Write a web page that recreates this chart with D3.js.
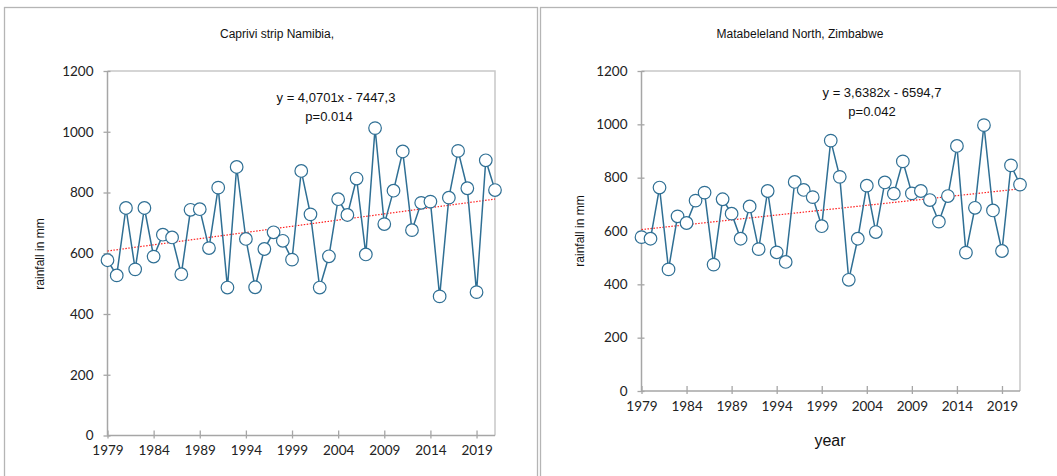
<!DOCTYPE html>
<html>
<head>
<meta charset="utf-8">
<script src="https://cdn.jsdelivr.net/npm/d3@7"></script>
<style>
  body { margin: 0; background: #fff; }
  svg { display: block; }
  .axis path, .axis line { stroke: #a6a6a6; stroke-width: 1.3; }
  .axis text { font-family: Lato, "Liberation Sans", sans-serif; font-size: 13.5px; fill: #222; }
</style>
</head>
<body>
<div id="chart"></div>
<script>
var years = [1979, 1980, 1981, 1982, 1983, 1984, 1985, 1986, 1987, 1988,
	1989, 1990, 1991, 1992, 1993, 1994, 1995, 1996, 1997, 1998,
	1999, 2000, 2001, 2002, 2003, 2004, 2005, 2006, 2007, 2008,
	2009, 2010, 2011, 2012, 2013, 2014, 2015, 2016, 2017, 2018,
	2019, 2020, 2021];

var caprivi = [577, 527, 749, 547, 749, 589, 661, 652, 531, 743,
	745, 617, 816, 487, 884, 647, 488, 614, 669, 641,
	579, 871, 728, 487, 590, 778, 726, 846, 596, 1012,
	696, 806, 935, 676, 766, 770, 458, 783, 937, 814,
	472, 906, 808];

var matabeleland = [577, 571, 763, 456, 655, 630, 714, 744, 474, 719,
	665, 571, 692, 532, 750, 520, 484, 784, 754, 727,
	618, 939, 803, 417, 571, 770, 596, 782, 740, 861,
	741, 750, 716, 635, 731, 919, 519, 687, 997, 677,
	525, 846, 774];

var xTicks = [1979, 1984, 1989, 1994, 1999, 2004, 2009, 2014, 2019];
var yTicks = [0, 200, 400, 600, 800, 1000, 1200];

// trend lines: slope, intercept
var trendCaprivi = [4.0701, -7447.3];
var trendMatabeleland = [3.6382, -6594.7];

var width = 1057;
var height = 476;
var lineColor = "#2f6f94";

var svg = d3.select("#chart").append("svg")
	.attr("width", width)
	.attr("height", height);

// panel frames
svg.append("rect")
	.attr("x", 4.5).attr("y", 7.5)
	.attr("width", 533).attr("height", 480)
	.attr("fill", "none").attr("stroke", "#b5b5b5").attr("stroke-width", 1.3);
svg.append("rect")
	.attr("x", 540.5).attr("y", 7.5)
	.attr("width", 530).attr("height", 480)
	.attr("fill", "none").attr("stroke", "#b5b5b5").attr("stroke-width", 1.3);

function drawChart(cfg) {
	var g = svg.append("g");

	var x = d3.scaleLinear()
		.domain([years[0], years[years.length - 1]])
		.range([cfg.left, cfg.right]);
	var y = d3.scaleLinear()
		.domain([0, 1200])
		.range([cfg.bottom, cfg.top]);

	// plot area frame (top + right)
	g.append("path")
		.attr("d", `M${cfg.left},${cfg.top}H${cfg.right}V${cfg.bottom}`)
		.attr("fill", "none")
		.attr("stroke", "#c8c8c8")
		.attr("stroke-width", 1.5);

	var yAxis = g.append("g")
		.attr("class", "axis")
		.attr("transform", `translate(${cfg.left},0)`)
		.call(d3.axisLeft(y).tickValues(yTicks).tickFormat(d3.format("d")).tickSize(4).tickPadding(10));
	yAxis.selectAll(".tick line").attr("x1", 3);

	var xAxis = g.append("g")
		.attr("class", "axis")
		.attr("transform", `translate(0,${cfg.bottom})`)
		.call(d3.axisBottom(x).tickValues(xTicks).tickFormat(d3.format("d")).tickSize(3).tickPadding(7));
	xAxis.selectAll(".tick line").attr("y1", -5);
	g.selectAll(".axis .domain").attr("d", null);
	g.append("line")
		.attr("x1", cfg.left).attr("x2", cfg.left)
		.attr("y1", cfg.top).attr("y2", cfg.bottom)
		.attr("stroke", "#a6a6a6").attr("stroke-width", 1.5);
	g.append("line")
		.attr("x1", cfg.left).attr("x2", cfg.right)
		.attr("y1", cfg.bottom).attr("y2", cfg.bottom)
		.attr("stroke", "#a6a6a6").attr("stroke-width", 1.5);

	// trend line
	var t = cfg.trend;
	g.append("line")
		.attr("x1", x(years[0]))
		.attr("y1", y(t[0] * years[0] + t[1]))
		.attr("x2", x(years[years.length - 1]))
		.attr("y2", y(t[0] * years[years.length - 1] + t[1]))
		.attr("stroke", "#ff2020")
		.attr("stroke-width", 1.2)
		.attr("stroke-dasharray", "1.5,1.5");

	var line = d3.line()
		.x((d, i) => x(years[i]))
		.y(d => y(d));

	g.append("path")
		.attr("d", line(cfg.values))
		.attr("fill", "none")
		.attr("stroke", lineColor)
		.attr("stroke-width", 1.5);

	g.selectAll("circle")
		.data(cfg.values).enter()
		.append("circle")
		.attr("cx", (d, i) => x(years[i]))
		.attr("cy", d => y(d))
		.attr("r", 6.3)
		.attr("fill", "#fff")
		.attr("stroke", lineColor)
		.attr("stroke-width", 1.2);

	// title
	g.append("text")
		.attr("x", cfg.titleX).attr("y", 38)
		.attr("text-anchor", "middle")
		.style("font-family", "'Liberation Sans', Arial, sans-serif")
		.style("font-size", "12px")
		.style("fill", "#111")
		.text(cfg.title);

	// equation
	g.append("text")
		.attr("x", cfg.eqX).attr("y", cfg.eqY)
		.attr("text-anchor", "middle")
		.style("font-family", "'Liberation Sans', Arial, sans-serif")
		.style("font-size", "13px")
		.style("fill", "#111")
		.text(cfg.eq);
	g.append("text")
		.attr("x", cfg.pX).attr("y", cfg.eqY + 19)
		.attr("text-anchor", "middle")
		.style("font-family", "'Liberation Sans', Arial, sans-serif")
		.style("font-size", "13px")
		.style("fill", "#111")
		.text(cfg.p);

	// y label
	g.append("text")
		.attr("transform", `translate(${cfg.yLabelX},${cfg.yLabelY}) rotate(-90)`)
		.attr("text-anchor", "middle")
		.style("font-family", "'Liberation Sans', Arial, sans-serif")
		.style("font-size", "12px")
		.style("fill", "#111")
		.text("rainfall in mm");

	return {x: x, y: y};
}

drawChart({
	left: 107.5, right: 495, top: 71, bottom: 435.5,
	values: caprivi, trend: trendCaprivi,
	title: "Caprivi strip Namibia,", titleX: 277,
	eq: "y = 4,0701x - 7447,3", eqX: 336, eqY: 102,
	p: "p=0.014", pX: 329,
	yLabelX: 44, yLabelY: 254
});

drawChart({
	left: 641.5, right: 1020, top: 71, bottom: 391,
	values: matabeleland, trend: trendMatabeleland,
	title: "Matabeleland North, Zimbabwe", titleX: 800,
	eq: "y = 3,6382x - 6594,7", eqX: 882, eqY: 97,
	p: "p=0.042", pX: 872,
	yLabelX: 584, yLabelY: 231
});

svg.append("text")
	.attr("x", 830).attr("y", 446)
	.attr("text-anchor", "middle")
	.style("font-family", "'Liberation Sans', Arial, sans-serif")
	.style("font-size", "16px")
	.style("fill", "#111")
	.text("year");
</script>
</body>
</html>
